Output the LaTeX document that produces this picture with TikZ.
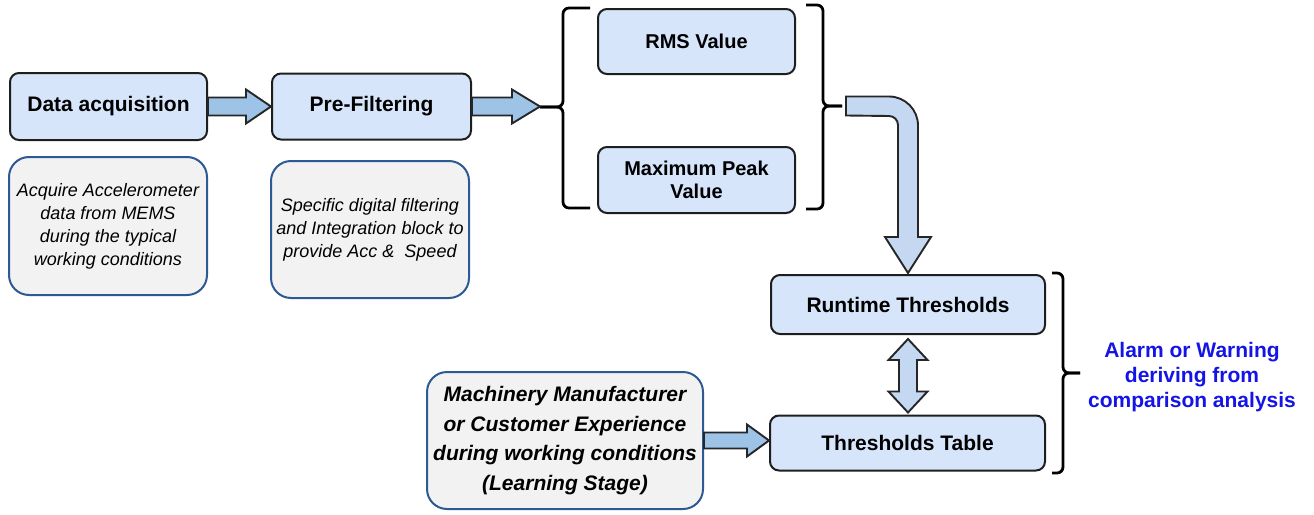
\documentclass[tikz,border=0pt]{standalone}
\usepackage{fontspec}
\setmainfont{Liberation Sans}
\usetikzlibrary{calc}

\definecolor{stagefill}{HTML}{D6E5FA}
\definecolor{stageline}{HTML}{1E1E1E}
\definecolor{notefill}{HTML}{F2F2F2}
\definecolor{noteline}{HTML}{2E5A94}
\definecolor{flowfill}{HTML}{9DC3E6}
\definecolor{bendfill}{HTML}{C4D8F1}
\definecolor{flowline}{HTML}{262626}
\definecolor{alarmblue}{HTML}{1414E6}

% horizontal block arrow: start, tip, shaft half-height, head half-height, head length
\newcommand\hblock[6][]{%
  \draw[blockarrow,#1] let \p1=(#2), \p2=(#3) in
    (\x1,\y1+#4) -- (\x2-#6,\y1+#4) -- (\x2-#6,\y1+#5) -- (\x2,\y1)
    -- (\x2-#6,\y1-#5) -- (\x2-#6,\y1-#4) -- (\x1,\y1-#4) -- cycle;}

\begin{document}
\begin{tikzpicture}[x=1pt,y=-1pt,
  stage/.style={draw=stageline, line width=2pt, fill=stagefill, rounded corners=9pt,
    inner sep=0pt, align=center, font=\fontsize{21}{25}\selectfont\bfseries},
  note/.style={draw=noteline, line width=2pt, fill=notefill, rounded corners=20pt,
    inner sep=0pt, align=center, font=\fontsize{18}{23}\selectfont\itshape},
  blockarrow/.style={draw=flowline, line width=1.9pt, fill=flowfill, line join=miter},
  bracket/.style={draw=black, line width=2.8pt, rounded corners=6pt, line cap=butt}]
\useasboundingbox (0,0) rectangle (1314,514);

% processing stages
\node[stage, minimum width=197pt, minimum height=67pt] (acq) at (108.5,106.5) {Data acquisition};
\node[stage, minimum width=199pt, minimum height=66pt] (pre) at (371.5,106.5) {Pre-Filtering};
\node[stage, minimum width=197pt, minimum height=65pt, font=\fontsize{20}{23}\selectfont\bfseries] (rms) at (696.5,41.5) {RMS Value};
\node[stage, minimum width=197pt, minimum height=66pt, font=\fontsize{20}{23}\selectfont\bfseries] (peak) at (696.5,180) {Maximum Peak\\Value};
\node[stage, minimum width=274pt, minimum height=59pt] (run) at (908,304.5) {Runtime Thresholds};
\node[stage, minimum width=275pt, minimum height=55pt] (tab) at (907.5,443) {Thresholds Table};

% explanatory notes
\node[note, minimum width=198pt, minimum height=138pt] (acqnote) at (108,226)
  {Acquire Accelerometer\\data from MEMS\\during the typical\\working conditions};
\node[note, minimum width=198pt, minimum height=137pt] (prenote) at (370,229.5)
  {Specific digital filtering\\and Integration block to\\provide Acc \&\ \ Speed};
\node[note, minimum width=276pt, minimum height=137pt, font=\fontsize{21}{29.5}\selectfont\bfseries\itshape] (learn) at (565,440.5)
  {Machinery Manufacturer\\or Customer Experience\\during working conditions\\(Learning Stage)};

% brackets grouping the indicators
\coordinate (lnub) at (540,107);
\coordinate (rnub) at (842,106);
\coordinate (anub) at (1080,373);
\draw[bracket] (590,8) -- (563,8) -- (563,107) -- (lnub);
\draw[bracket] (590,208) -- (563,208) -- (563,107) -- (lnub);
\draw[bracket] (806,5) -- (823,5) -- (823,106) -- (rnub);
\draw[bracket] (806,209) -- (823,209) -- (823,106) -- (rnub);
\draw[bracket] (1052,273) -- (1063,273) -- (1063,373) -- (anub);
\draw[bracket] (1052,473) -- (1063,473) -- (1063,373) -- (anub);

\node[anchor=center, align=center, text=alarmblue, font=\fontsize{21}{25}\selectfont\bfseries] (alarm) at (1192,377)
  {Alarm or Warning\\deriving from\\comparison analysis};

% straight flow arrows
\hblock{acq.east}{pre.west}{9pt}{17pt}{25pt}
\hblock{pre.east}{lnub}{9pt}{17pt}{28pt}
\hblock{learn.east}{learn.east -| tab.west}{8pt}{16pt}{22pt}

% bent arrow from the indicators down to the runtime thresholds
\draw[blockarrow, fill=bendfill] let \p1=(rnub), \p2=(run.north) in
  (\x1+4pt,\y1+9.5pt) -- (\x2-19pt,\y1+9.5pt)
  arc[start angle=90, end angle=0, radius=29pt]
  -- (\x2+10pt,\y2+37pt) -- (\x2+23pt,\y2+37pt) -- (\x2,\y2+1pt)
  -- (\x2-23pt,\y2+37pt) -- (\x2-10pt,\y2+37pt) -- (\x2-10pt,\y1-19pt)
  arc[start angle=0, end angle=90, radius=9pt]
  -- (\x1+4pt,\y1-9.5pt) -- cycle;

% two-way arrow between runtime thresholds and the table
\draw[blockarrow, fill=bendfill] let \p1=($(run.south)+(0,4)$), \p2=($(tab.north)+(0,-2)$) in
  (\x1,\y1) -- (\x1+19.5pt,\y1-21pt) -- (\x1+9pt,\y1-21pt) -- (\x1+9pt,\y2+21pt)
  -- (\x1+19.5pt,\y2+21pt) -- (\x1,\y2) -- (\x1-19.5pt,\y2+21pt) -- (\x1-9pt,\y2+21pt)
  -- (\x1-9pt,\y1-21pt) -- (\x1-19.5pt,\y1-21pt) -- cycle;
\end{tikzpicture}
\end{document}
